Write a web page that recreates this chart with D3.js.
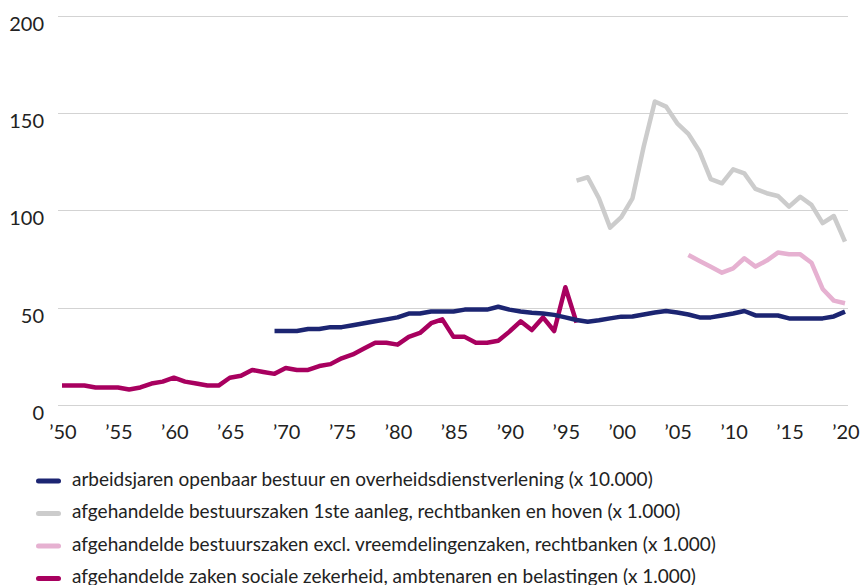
<!DOCTYPE html>
<html>
<head>
<meta charset="utf-8">
<title>Bestuursrechtspraak</title>
<script src="https://d3js.org/d3.v7.min.js"></script>
<style>
  body { margin: 0; background: #fff; }
  svg { display: block; font-family: Lato, "Open Sans", sans-serif; }
</style>
</head>
<body>
<svg id="chart"></svg>
<script>
// series values
var navyYears = d3.range(1969, 2021);
var navyValues = [38, 38, 38, 39, 39, 40, 40, 41, 42, 43, 44, 45, 47, 47, 48, 48,
  48, 49, 49, 49, 50.5, 49, 48, 47.4, 47, 46.3, 45, 43.7, 42.8, 43.5, 44.5, 45.4,
  45.5, 46.5, 47.5, 48.3, 47.5, 46.5, 45, 45, 46, 47, 48.3, 46, 46, 46, 44.5,
  44.5, 44.5, 44.5, 45.5, 48];

var grayYears = d3.range(1996, 2021);
var grayValues = [115.3, 117, 106.2, 91.1, 96.5, 106.2, 132.7, 155.9, 153.3, 144.7,
  139.3, 130.2, 116, 113.9, 121.1, 119, 111, 108.8, 107.4, 101.9, 107, 102.8,
  93.4, 97.1, 83.9];

var pinkYears = d3.range(2006, 2021);
var pinkValues = [77.1, 74, 71, 68, 70.2, 75.4, 71.1, 74.2, 78.3, 77.4, 77.4, 73.1,
  59.6, 53.6, 52.3];

var magentaYears = d3.range(1950, 1997);
var magentaValues = [10, 10, 10, 9, 9, 9, 8, 9, 11, 12, 14, 12, 11, 10, 10, 14, 15,
  18, 17, 16, 19, 18, 18, 20, 21, 24, 26, 29, 32, 32, 31, 35, 37, 42, 44, 35, 35,
  32, 32, 33, 37.7, 43, 38.5, 45, 38, 60.5, 42.3];

var yTicks = [0, 50, 100, 150, 200];
var xTicks = d3.range(1950, 2021, 5);

var legendLabels = [
  "arbeidsjaren openbaar bestuur en overheidsdienstverlening (x 10.000)",
  "afgehandelde bestuurszaken 1ste aanleg, rechtbanken en hoven (x 1.000)",
  "afgehandelde bestuurszaken excl. vreemdelingenzaken, rechtbanken (x 1.000)",
  "afgehandelde zaken sociale zekerheid, ambtenaren en belastingen (x 1.000)"
];
var legendColors = ["#1c2572", "#cccccc", "#e6b1d1", "#a8005f"];

var width = 861, height = 585;

var svg = d3.select("#chart")
  .attr("width", width)
  .attr("height", height);

var x = d3.scaleLinear().domain([1950, 2020]).range([62, 845]);
var y = d3.scaleLinear().domain([0, 200]).range([405, 15.7]);

// gridlines
svg.append("g")
  .selectAll("line")
  .data(yTicks)
  .enter()
  .append("line")
  .attr("x1", 58)
  .attr("x2", 848)
  .attr("y1", function(d) { return Math.round(y(d)) + 0.5; })
  .attr("y2", function(d) { return Math.round(y(d)) + 0.5; })
  .attr("stroke", "#d3d3d3")
  .attr("stroke-width", 1);

// y labels
svg.append("g")
  .selectAll("text")
  .data(yTicks)
  .enter()
  .append("text")
  .attr("x", 44)
  .attr("y", function(d) { return y(d) + 15; })
  .attr("text-anchor", "end")
  .attr("font-size", 20)
  .attr("fill", "#222")
  .text(function(d) { return d; });

// x labels
svg.append("g")
  .selectAll("text")
  .data(xTicks)
  .enter()
  .append("text")
  .attr("x", function(d) { return x(d) + 1; })
  .attr("y", 439)
  .attr("text-anchor", "middle")
  .attr("font-size", 20)
  .attr("fill", "#222")
  .text(function(d) { return "\u2019" + String(d).slice(2); });

var line = d3.line()
  .x(function(d) { return x(d[0]); })
  .y(function(d) { return y(d[1]); });

function drawSeries(years, values, color) {
  svg.append("path")
    .datum(d3.zip(years, values))
    .attr("d", line)
    .attr("fill", "none")
    .attr("stroke", color)
    .attr("stroke-width", 4.5)
    .attr("stroke-linejoin", "round")
    .attr("stroke-linecap", "butt");
}

drawSeries(magentaYears, magentaValues, legendColors[3]);
drawSeries(grayYears, grayValues, legendColors[1]);
drawSeries(pinkYears, pinkValues, legendColors[2]);
drawSeries(navyYears, navyValues, legendColors[0]);

// legend
var legend = svg.append("g")
  .selectAll("g")
  .data(legendLabels)
  .enter()
  .append("g")
  .attr("transform", function(d, i) { return "translate(0," + (481 + i * 32.5) + ")"; });

legend.append("line")
  .attr("x1", 38.5)
  .attr("x2", 58.5)
  .attr("stroke", function(d, i) { return legendColors[i]; })
  .attr("stroke-width", 5)
  .attr("stroke-linecap", "round");

var legendText = legend.append("text")
  .attr("x", 72)
  .attr("y", 4)
  .attr("font-size", 17)
  .attr("fill", "#222")
  .text(function(d) { return d; });

// first row runs to about x=654 in the original, size the font to that
var firstLen = legendText.node().getComputedTextLength();
var fs = Math.min(19, 17 * 582 / firstLen);
legendText.attr("font-size", fs).attr("y", 4.5);
</script>
</body>
</html>
